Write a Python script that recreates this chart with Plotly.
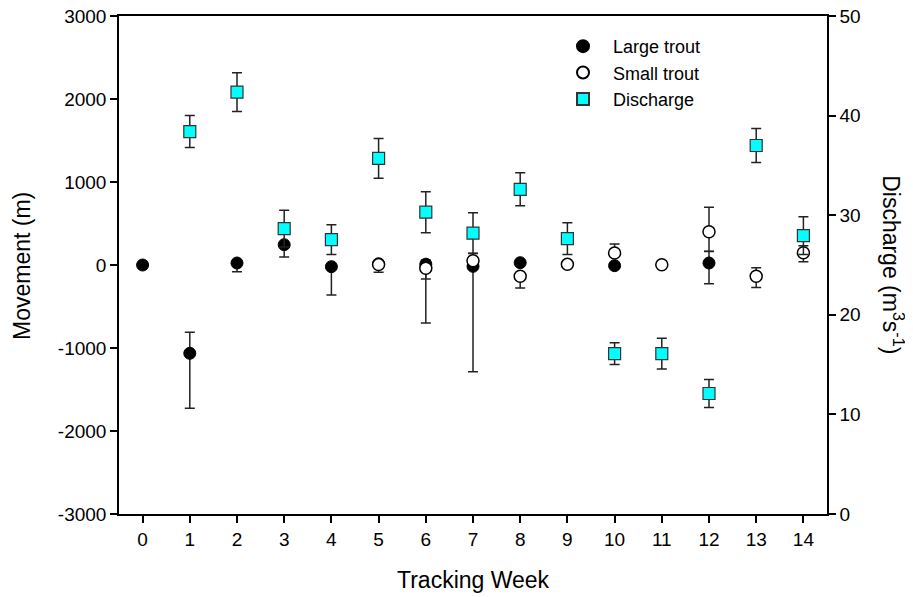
import plotly.graph_objects as go

weeks = list(range(15))

large_trout = [0, -1064, 24, 245, -20, 15, 10, -16, 28, None, -8, None, 24, None, None]
large_err_plus = [0, 253, 0, 0, 0, 0, 50, 0, 0, 0, 0, 0, 140, 0, 0]
large_err_minus = [0, 663, 104, 150, 340, 0, 710, 1270, 0, 0, 0, 0, 250, 0, 0]

small_trout = [None, None, None, None, None, 5, -40, 52, -136, 8, 145, 4, 400, -136, 148]
small_err_plus = [0, 0, 0, 0, 0, 0, 0, 90, 0, 0, 108, 0, 295, 103, 84]
small_err_minus = [0, 0, 0, 0, 0, 93, 130, 0, 140, 0, 0, 0, 235, 134, 108]

discharge = [None, 38.4, 42.35, 28.65, 27.55, 35.7, 30.3, 28.2, 32.6, 27.65, 16.1, 16.1, 12.1, 37.0, 27.95]
discharge_err = [0, 1.6, 1.95, 1.85, 1.5, 2.0, 2.05, 2.05, 1.65, 1.6, 1.1, 1.55, 1.4, 1.7, 1.9]

left_ticks = [-3000, -2000, -1000, 0, 1000, 2000, 3000]
left_labels = ["-3000", "-2000", "-1000", "0", "1000", "2000", "3000"]
right_ticks = [0, 10, 20, 30, 40, 50]
week_labels = [str(w) for w in weeks]

FONT = "Arial, Liberation Sans, sans-serif"
EB = dict(color="#222", thickness=1.5, width=5)

fig = go.Figure()
fig.add_trace(go.Scatter(
    x=weeks, y=large_trout, mode="markers", name="Large trout",
    marker=dict(symbol="circle", size=12, color="black", line=dict(color="black", width=1)),
    error_y=dict(type="data", symmetric=False, array=large_err_plus, arrayminus=large_err_minus, **EB),
))
fig.add_trace(go.Scatter(
    x=weeks, y=small_trout, mode="markers", name="Small trout",
    marker=dict(symbol="circle", size=12, color="white", line=dict(color="black", width=1.5)),
    error_y=dict(type="data", symmetric=False, array=small_err_plus, arrayminus=small_err_minus, **EB),
))
fig.add_trace(go.Scatter(
    x=weeks, y=discharge, mode="markers", name="Discharge", yaxis="y2",
    marker=dict(symbol="square", size=12, color="#00FFFF", line=dict(color="#333", width=1.2)),
    error_y=dict(type="data", array=discharge_err, **EB),
))

axis_common = dict(
    showline=True, linecolor="black", linewidth=1.5, ticks="outside", ticklen=7,
    tickwidth=1.5, tickcolor="black", showgrid=False, zeroline=False, automargin=False,
    ticklabeloverflow="allow",
    tickfont=dict(family=FONT, size=19, color="black"),
)

fig.update_layout(
    width=913, height=597,
    margin=dict(l=111, r=94, t=8, b=91),
    paper_bgcolor="white", plot_bgcolor="white",
    font=dict(family=FONT, size=19, color="black"),
    xaxis=dict(range=[-0.5, 14.5], tickvals=weeks, ticktext=week_labels, mirror=True, **axis_common),
    yaxis=dict(range=[-3000, 3000], tickvals=left_ticks, ticktext=left_labels, **axis_common),
    yaxis2=dict(range=[0, 50], tickvals=right_ticks, overlaying="y", side="right", **axis_common),
    legend=dict(x=0.613, y=0.976, xanchor="left", yanchor="top", bgcolor="rgba(0,0,0,0)",
                font=dict(size=18), tracegroupgap=0, itemwidth=50, itemsizing="constant"),
    showlegend=True,
)

title_font = dict(family=FONT, size=23, color="black")
fig.add_annotation(text="Tracking Week", xref="paper", yref="paper", x=0.5, y=-0.1325,
                   xanchor="center", yanchor="middle", showarrow=False, font=title_font)
fig.add_annotation(text="Movement (m)", textangle=-90, xref="paper", yref="paper",
                   x=-0.137, y=0.498, xanchor="center", yanchor="middle", showarrow=False,
                   font=title_font)
fig.add_annotation(text="Discharge (m<sup>3</sup>s<sup>-1</sup>)", textangle=90,
                   xref="paper", yref="paper", x=1.093, y=0.5, xanchor="center", yanchor="middle",
                   showarrow=False, font=title_font)

fig.write_html("out.html")
